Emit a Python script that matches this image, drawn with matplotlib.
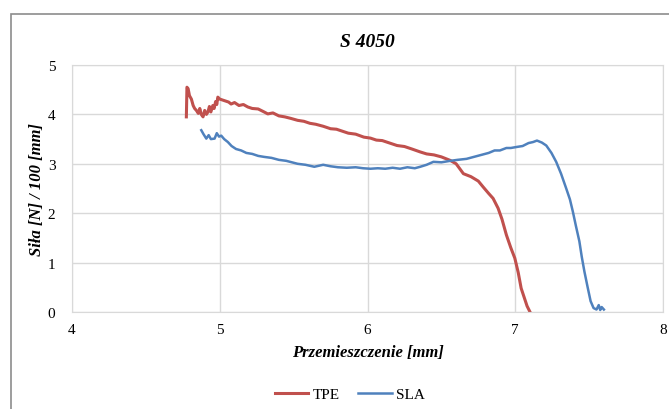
import matplotlib.pyplot as plt
from matplotlib.patches import Rectangle

# TPE curve
tpe_x = [4.774, 4.778, 4.786, 4.795, 4.808, 4.82, 4.83, 4.842, 4.855, 4.865, 4.875, 4.887,
         4.898, 4.91, 4.92, 4.93, 4.94, 4.953, 4.962, 4.972, 4.98, 4.987, 5.0, 5.03, 5.06,
         5.077, 5.1, 5.13, 5.16, 5.19, 5.22, 5.26, 5.3, 5.325, 5.36, 5.4, 5.44, 5.48, 5.527,
         5.57, 5.61, 5.65, 5.7, 5.75, 5.79, 5.83, 5.87, 5.92, 5.975, 6.02, 6.06, 6.1, 6.15,
         6.2, 6.25, 6.3, 6.357, 6.4, 6.45, 6.5, 6.559, 6.6, 6.649, 6.7, 6.75, 6.783, 6.82,
         6.85, 6.884, 6.91, 6.94, 6.97, 6.997, 7.02, 7.04, 7.06, 7.08, 7.10]
tpe_y = [3.95, 4.55, 4.52, 4.38, 4.31, 4.18, 4.12, 4.08, 4.02, 4.12, 4.0, 3.95,
         4.08, 4.0, 4.05, 4.16, 4.05, 4.18, 4.12, 4.26, 4.2, 4.35, 4.31, 4.28, 4.25,
         4.21, 4.24, 4.18, 4.2, 4.15, 4.12, 4.11, 4.05, 4.01, 4.03, 3.97, 3.95, 3.92, 3.88,
         3.86, 3.82, 3.8, 3.76, 3.71, 3.7, 3.66, 3.62, 3.6, 3.54, 3.52, 3.48, 3.47, 3.42,
         3.37, 3.35, 3.3, 3.24, 3.2, 3.18, 3.14, 3.07, 3.0, 2.8, 2.74, 2.65, 2.53, 2.4,
         2.3, 2.1, 1.88, 1.56, 1.3, 1.09, 0.8, 0.48, 0.3, 0.12, 0.0]

# SLA curve
sla_x = [4.875, 4.89, 4.909, 4.925, 4.94, 4.965, 4.98, 4.995, 5.01, 5.03, 5.055, 5.08,
         5.11, 5.145, 5.18, 5.22, 5.26, 5.3, 5.35, 5.4, 5.45, 5.527, 5.58, 5.64, 5.7,
         5.75, 5.8, 5.86, 5.92, 5.97, 6.02, 6.07, 6.12, 6.17, 6.22, 6.27, 6.32, 6.357,
         6.4, 6.446, 6.5, 6.56, 6.61, 6.67, 6.72, 6.77, 6.82, 6.86, 6.896, 6.94, 6.97,
         7.008, 7.05, 7.09, 7.12, 7.147, 7.18, 7.21, 7.245, 7.277, 7.31, 7.345, 7.37,
         7.39, 7.41, 7.434, 7.45, 7.468, 7.49, 7.51, 7.53, 7.55, 7.565, 7.575, 7.585,
         7.60]
sla_y = [3.68, 3.6, 3.51, 3.58, 3.5, 3.51, 3.62, 3.55, 3.57, 3.5, 3.44, 3.36,
         3.3, 3.27, 3.22, 3.2, 3.16, 3.14, 3.12, 3.08, 3.06, 3.0, 2.98, 2.94, 2.98,
         2.95, 2.93, 2.92, 2.93, 2.91, 2.9, 2.91, 2.9, 2.92, 2.9, 2.93, 2.91, 2.94,
         2.98, 3.04, 3.03, 3.06, 3.08, 3.1, 3.14, 3.18, 3.22, 3.27, 3.27, 3.32, 3.32,
         3.34, 3.36, 3.42, 3.44, 3.47, 3.43, 3.37, 3.22, 3.04, 2.8, 2.5, 2.28,
         2.03, 1.75, 1.43, 1.12, 0.82, 0.5, 0.22, 0.08, 0.05, 0.14, 0.04, 0.1,
         0.05]

series_names = ['TPE', 'SLA']
colors = ['#C0504D', '#4F81BD']

plt.rcParams['font.family'] = ['Liberation Serif', 'DejaVu Serif']

fig = plt.figure(figsize=(6.69, 4.10), dpi=100)
ax = fig.add_axes([72 / 669, 1 - 313 / 410, (663 - 72) / 669, (313 - 66) / 410])

ax.plot(tpe_x, tpe_y, color=colors[0], lw=2.2, label=series_names[0])
ax.plot(sla_x, sla_y, color=colors[1], lw=1.8, label=series_names[1])

ax.set_xlim(4, 8)
ax.set_ylim(0, 5)
ax.set_xticks([4, 5, 6, 7, 8])
ax.set_yticks([0, 1, 2, 3, 4, 5])
ax.grid(True, color='#D9D9D9', lw=1)
ax.set_axisbelow(True)
for s in ax.spines.values():
    s.set_color('#D9D9D9')
ax.tick_params(length=0, labelsize=11, pad=8)
ax.tick_params(axis='y', pad=12)

ax.set_title('S 4050', fontsize=14, fontweight='bold', fontstyle='italic', pad=14)
ax.set_xlabel('Przemieszczenie [mm]', fontsize=12, fontweight='bold', fontstyle='italic', labelpad=6)
ax.set_ylabel('Siła [N] / 100 [mm]', fontsize=12, fontweight='bold', fontstyle='italic', labelpad=2)

fig.legend(loc='center', bbox_to_anchor=(350 / 669, 1 - 395 / 410), ncol=2, frameon=False,
           fontsize=11, handlelength=2.2, columnspacing=1.2, handletextpad=0.3)

fig.patches.append(Rectangle((11 / 669, -0.1), 1.0, 1.1 - 15 / 410, transform=fig.transFigure,
                             fill=False, edgecolor='#8C8C8C', lw=1.2))

fig.savefig('out.png', dpi=100)
